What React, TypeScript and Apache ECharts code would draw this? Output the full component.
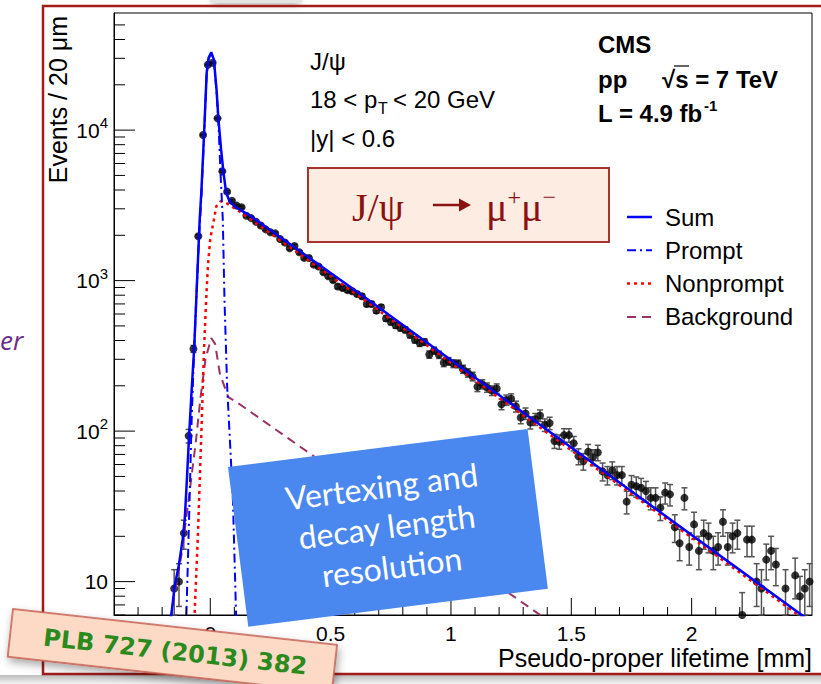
import React, { useEffect, useRef } from "react";
import * as echarts from "echarts";

const X_MIN = -0.4;
const X_MAX = 2.5;
const Y_MIN = 6;
const Y_MAX = 60000;

// Pseudo-proper lifetime bin centres (mm) and events per 20 um bin
const dataPoints: [number, number | null][] = [
  [-0.15, 9], [-0.13, 10], [-0.11, 21], [-0.09, 93], [-0.07, 352], [-0.05, 1970],
  [-0.03, 9290], [-0.01, 27200], [0.01, 28000], [0.03, 11970], [0.05, 5320], [0.07, 3900],
  [0.09, 3390], [0.11, 3150], [0.13, 3070], [0.15, 2700], [0.17, 2600], [0.19, 2460],
  [0.21, 2325], [0.23, 2190], [0.25, 2095], [0.27, 2060], [0.29, 1890], [0.31, 1790],
  [0.33, 1640], [0.35, 1700], [0.37, 1542], [0.39, 1416], [0.41, 1415], [0.43, 1277],
  [0.45, 1240], [0.47, 1136], [0.49, 1070], [0.51, 1008], [0.53, 915], [0.55, 893],
  [0.57, 865], [0.59, 849], [0.61, 815], [0.63, 787], [0.65, 700], [0.67, 700],
  [0.69, 632], [0.71, 665], [0.73, 561], [0.75, 532], [0.77, 505], [0.79, 485],
  [0.81, 472], [0.83, 437], [0.85, 405], [0.87, 385], [0.89, 391], [0.91, 323],
  [0.93, 343], [0.95, 322], [0.97, 285], [0.99, 291], [1.01, 281], [1.03, 280],
  [1.05, 258], [1.07, 244], [1.09, 231], [1.11, 197], [1.13, 205], [1.15, 195],
  [1.17, 186], [1.19, 192], [1.21, 151], [1.23, 161], [1.25, 164], [1.27, 146],
  [1.29, 123], [1.31, 131], [1.33, 114], [1.35, 120], [1.37, 127], [1.39, 110],
  [1.41, 113], [1.43, 86], [1.45, 85], [1.47, 94], [1.49, 94], [1.51, 83],
  [1.53, 68], [1.55, 63], [1.57, 73], [1.59, 67], [1.61, 72], [1.63, 54],
  [1.65, 51], [1.67, 55], [1.69, 51], [1.71, 51], [1.73, 34], [1.75, 44],
  [1.77, 43], [1.79, 42], [1.81, 40], [1.83, 36], [1.85, 36], [1.87, 31],
  [1.89, 39], [1.91, 38], [1.93, 23], [1.95, 18], [1.97, 36], [1.99, 17],
  [2.01, 24], [2.03, 16], [2.05, 21], [2.07, 20], [2.09, 16], [2.11, 17],
  [2.13, 25], [2.15, 17], [2.17, 20], [2.19, 21], [2.21, 6], [2.23, 19],
  [2.25, 19], [2.27, 10], [2.29, 9], [2.31, 14], [2.33, 16], [2.35, 13],
  [2.37, null], [2.39, 9], [2.41, null], [2.43, 11], [2.45, 8], [2.47, 9],
  [2.49, 10],
];

// Fit components: [lifetime (mm), events per 20 um]
const sumCurve: [number, number][] = [
  [-0.17, 4.8], [-0.161, 6.2], [-0.148, 9.3], [-0.13, 13], [-0.115, 19], [-0.106, 26],
  [-0.098, 45], [-0.088, 93], [-0.078, 180], [-0.067, 352], [-0.056, 900], [-0.044, 2540],
  [-0.037, 3900], [-0.026, 9290], [-0.015, 24000], [-0.007, 30200], [0.004, 32900],
  [0.015, 29400], [0.026, 18600], [0.034, 11750], [0.045, 7410], [0.055, 5200],
  [0.066, 3830], [0.08, 3370], [0.1, 3120], [0.135, 2885], [0.169, 2675], [0.639, 780],
  [2.5, 5.35],
];
const promptCurve: [number, number][] = [
  [-0.105, 4.5], [-0.099, 6.2], [-0.092, 15.6], [-0.085, 40], [-0.078, 110], [-0.07, 260],
  [-0.06, 650], [-0.05, 1500], [-0.044, 2300], [-0.037, 3600], [-0.026, 9000],
  [-0.015, 23500], [-0.007, 29800], [0.004, 32400], [0.015, 28800], [0.026, 18000],
  [0.034, 11200], [0.043, 5000], [0.048, 3450], [0.052, 2540], [0.059, 748], [0.07, 200],
  [0.08, 98], [0.094, 35], [0.107, 6.2], [0.112, 4],
];
const nonpromptCurve: [number, number][] = [
  [-0.07, 4.5], [-0.065, 6.2], [-0.051, 21.2], [-0.037, 98], [-0.026, 348], [-0.017, 748],
  [-0.01, 1245], [0.0, 1900], [0.015, 2540], [0.025, 3120], [0.043, 3365], [0.066, 3280],
  [0.114, 2930], [0.639, 745], [2.5, 5.15],
];
const backgroundCurve: [number, number][] = [
  [-0.165, 5.5], [-0.15, 8], [-0.12, 15], [-0.09, 35], [-0.06, 85], [-0.04, 170],
  [-0.02, 300], [0.004, 416], [0.02, 380], [0.04, 240], [0.075, 168], [0.114, 154],
  [1.361, 6.15], [1.42, 5.4],
];

// Axis ticks
const xMajorTicks = [0, 0.5, 1, 1.5, 2];
const xTickLabels = ["0", "0.5", "1", "1.5", "2"];
const xMinorTicks = [
  -0.3, -0.2, -0.1, 0.1, 0.2, 0.3, 0.4, 0.6, 0.7, 0.8, 0.9, 1.1, 1.2, 1.3, 1.4,
  1.6, 1.7, 1.8, 1.9, 2.1, 2.2, 2.3, 2.4,
];
const yMajorTicks = [10, 100, 1000, 10000];
const yTickLabels = ["10", "10{sup|2}", "10{sup|3}", "10{sup|4}"];
const yMinorTicks = [
  6, 7, 8, 9, 20, 30, 40, 50, 60, 70, 80, 90, 200, 300, 400, 500, 600, 700, 800, 900,
  2000, 3000, 4000, 5000, 6000, 7000, 8000, 9000, 20000, 30000, 40000, 50000,
];

const legendEntries = ["Sum", "Prompt", "Nonprompt", "Background"];

const ROOT_FONT = '"Liberation Sans", Arial, sans-serif';
const SERIF_FONT = '"Liberation Serif", "DejaVu Serif", serif';

function tickSeries(points: number[][], dx: number, dy: number) {
  return {
    type: "custom",
    silent: true,
    z: 8,
    data: points,
    encode: { x: 0, y: 1 },
    renderItem: (_p: any, api: any) => {
      const c = api.coord([api.value(0), api.value(1)]);
      return {
        type: "line",
        shape: { x1: c[0], y1: c[1], x2: c[0] + dx, y2: c[1] + dy },
        style: { stroke: "#000", lineWidth: 1 },
      };
    },
  };
}

export default function App() {
  const ref = useRef<HTMLDivElement>(null);

  useEffect(() => {
    if (!ref.current) return;
    const chart = echarts.init(ref.current, undefined, { renderer: "svg" });

    const measured = dataPoints.filter((d) => d[1] !== null) as [number, number][];

    const option: any = {
      animation: false,
      backgroundColor: "#fff",
      grid: {
        left: 114,
        right: 9,
        top: 13,
        bottom: 69,
        show: true,
        borderColor: "#000",
        borderWidth: 1,
        backgroundColor: "transparent",
      },
      xAxis: {
        type: "value",
        min: X_MIN,
        max: X_MAX,
        interval: 0.1,
        splitLine: { show: false },
        axisTick: { show: false },
        axisLine: { onZero: false, lineStyle: { color: "#000", width: 1 } },
        axisLabel: {
          color: "#000",
          fontSize: 21,
          fontFamily: ROOT_FONT,
          margin: 8,
          showMinLabel: false,
          showMaxLabel: false,
          formatter: (v: number) => {
            const i = xMajorTicks.findIndex((t) => Math.abs(t - v) < 1e-6);
            return i >= 0 ? xTickLabels[i] : "";
          },
        },
      },
      yAxis: {
        type: "log",
        logBase: 10,
        min: Y_MIN,
        max: Y_MAX,
        splitLine: { show: false },
        axisTick: { show: false },
        axisLine: { onZero: false, lineStyle: { color: "#000", width: 1 } },
        axisLabel: {
          color: "#000",
          fontSize: 21,
          fontFamily: ROOT_FONT,
          margin: 6,
          lineHeight: 30,
          formatter: (v: number) => {
            const i = yMajorTicks.findIndex((t) => Math.abs(t - v) / t < 1e-6);
            return i >= 0 ? yTickLabels[i] : "";
          },
          rich: {
            sup: { fontSize: 15, fontFamily: ROOT_FONT, verticalAlign: "top", lineHeight: 30, color: "#000" },
          },
        },
      },
      series: [
        {
          name: "errors",
          type: "custom",
          silent: true,
          z: 2,
          data: measured,
          encode: { x: 0, y: 1 },
          renderItem: (_p: any, api: any) => {
            const x = api.value(0);
            const n = api.value(1);
            const err = Math.sqrt(n);
            const bottom = api.coord([x, Y_MIN])[1];
            const top = api.coord([x, Y_MAX])[1];
            const hi = Math.max(api.coord([x, n + err])[1], top);
            const lo = n - err > 0 ? Math.min(api.coord([x, n - err])[1], bottom) : bottom;
            const cx = api.coord([x, n])[0];
            const stroke = { stroke: "#555", lineWidth: 1.5 };
            return {
              type: "group",
              children: [
                { type: "line", shape: { x1: cx, y1: hi, x2: cx, y2: lo }, style: stroke },
                { type: "line", shape: { x1: cx - 3, y1: hi, x2: cx + 3, y2: hi }, style: stroke },
                { type: "line", shape: { x1: cx - 3, y1: lo, x2: cx + 3, y2: lo }, style: stroke },
              ],
            };
          },
        },
        {
          name: "Data",
          type: "scatter",
          z: 3,
          symbol: "circle",
          symbolSize: 8,
          itemStyle: { color: "#000" },
          data: measured,
        },
        {
          name: "Background",
          type: "line",
          z: 4,
          symbol: "none",
          data: backgroundCurve,
          lineStyle: { color: "#993366", width: 2, type: [9, 6] },
        },
        {
          name: "Nonprompt",
          type: "line",
          z: 5,
          symbol: "none",
          data: nonpromptCurve,
          lineStyle: { color: "#ff0000", width: 2.5, type: [3, 4] },
        },
        {
          name: "Prompt",
          type: "line",
          z: 6,
          symbol: "none",
          data: promptCurve,
          lineStyle: { color: "#0000ff", width: 2, type: [9, 4, 2, 4] },
        },
        {
          name: "Sum",
          type: "line",
          z: 7,
          symbol: "none",
          data: sumCurve,
          lineStyle: { color: "#0000ff", width: 2.5 },
        },
        tickSeries(yMajorTicks.map((v) => [X_MIN, v]), 21, 0),
        tickSeries(yMinorTicks.map((v) => [X_MIN, v]), 11, 0),
        tickSeries(xMajorTicks.map((v) => [v, Y_MIN]), 0, -17),
        tickSeries(xMinorTicks.map((v) => [v, Y_MIN]), 0, -8),
      ],
      graphic: {
        elements: [
          // slide frame, its shadow and the edge of the shape above it
          {
            type: "rect",
            z: 0,
            shape: { x: 0, y: 675, width: 821, height: 9 },
            style: {
              fill: new echarts.graphic.LinearGradient(0, 0, 0, 1, [
                { offset: 0, color: "#bdbdbd" },
                { offset: 1, color: "#f2f2f2" },
              ]),
            },
          },
          {
            type: "rect",
            z: 0,
            shape: { x: 212, y: -10, width: 88, height: 13, r: 3 },
            style: {
              fill: "#e4e4e4",
              shadowBlur: 6,
              shadowOffsetY: 2,
              shadowColor: "rgba(0,0,0,0.3)",
            },
          },
          {
            type: "rect",
            z: 1,
            shape: { x: 43, y: 6, width: 820, height: 668 },
            style: { fill: "none", stroke: "#a01d1a", lineWidth: 2.5 },
          },
          {
            type: "text",
            z: 100,
            x: 0,
            y: 340,
            style: {
              text: "er",
              fill: "#6e2c8e",
              font: 'italic 26px "Open Sans", sans-serif',
              verticalAlign: "middle",
            },
          },
          // axis titles
          {
            type: "text",
            z: 100,
            x: 58,
            y: 16,
            rotation: Math.PI / 2,
            style: {
              text: "Events / 20 μm",
              fill: "#000",
              font: `25px ${ROOT_FONT}`,
              align: "right",
              verticalAlign: "middle",
            },
          },
          {
            type: "text",
            z: 100,
            x: 812,
            y: 658,
            style: {
              text: "Pseudo-proper lifetime [mm]",
              fill: "#000",
              font: `25px ${ROOT_FONT}`,
              align: "right",
              verticalAlign: "middle",
            },
          },
          // selection labels
          {
            type: "text", z: 100, x: 310, y: 61,
            style: { text: "J/ψ", fill: "#000", font: `24px ${ROOT_FONT}`, verticalAlign: "middle" },
          },
          {
            type: "text", z: 100, x: 310, y: 99,
            style: { text: "18 < p", fill: "#000", font: `24px ${ROOT_FONT}`, verticalAlign: "middle" },
          },
          {
            type: "text", z: 100, x: 378, y: 108,
            style: { text: "T", fill: "#000", font: `16px ${ROOT_FONT}`, verticalAlign: "middle" },
          },
          {
            type: "text", z: 100, x: 393, y: 99,
            style: { text: "< 20 GeV", fill: "#000", font: `24px ${ROOT_FONT}`, verticalAlign: "middle" },
          },
          {
            type: "text", z: 100, x: 310, y: 138,
            style: { text: "|y| < 0.6", fill: "#000", font: `24px ${ROOT_FONT}`, verticalAlign: "middle" },
          },
          // experiment labels
          {
            type: "text", z: 100, x: 598, y: 44,
            style: { text: "CMS", fill: "#000", font: `bold 24px ${ROOT_FONT}`, verticalAlign: "middle" },
          },
          {
            type: "text", z: 100, x: 598, y: 79,
            style: { text: "pp", fill: "#000", font: `bold 24px ${ROOT_FONT}`, verticalAlign: "middle" },
          },
          {
            type: "text", z: 100, x: 662, y: 79,
            style: { text: "√s = 7 TeV", fill: "#000", font: `bold 24px ${ROOT_FONT}`, verticalAlign: "middle" },
          },
          {
            type: "line", z: 100,
            shape: { x1: 674, y1: 66, x2: 689, y2: 66 },
            style: { stroke: "#000", lineWidth: 1.2 },
          },
          {
            type: "text", z: 100, x: 598, y: 113,
            style: { text: "L = 4.9 fb", fill: "#000", font: `bold 24px ${ROOT_FONT}`, verticalAlign: "middle" },
          },
          {
            type: "text", z: 100, x: 704, y: 105,
            style: { text: "-1", fill: "#000", font: `bold 15px ${ROOT_FONT}`, verticalAlign: "middle" },
          },
          // decay channel box
          {
            type: "rect", z: 100,
            shape: { x: 308, y: 168, width: 301, height: 74 },
            style: { fill: "#fdece2", stroke: "#a8332d", lineWidth: 2 },
          },
          {
            type: "text", z: 101, x: 352, y: 207,
            style: {
              text: "J/ψ",
              fill: "#8c1212",
              font: `40px ${SERIF_FONT}`,
              verticalAlign: "middle",
            },
          },
          {
            type: "line", z: 101,
            shape: { x1: 433, y1: 205, x2: 466, y2: 205 },
            style: { stroke: "#8c1212", lineWidth: 2.4 },
          },
          {
            type: "polygon", z: 101,
            shape: { points: [[471, 205], [459, 198.5], [459, 211.5]] },
            style: { fill: "#8c1212" },
          },
          {
            type: "text", z: 101, x: 486, y: 207,
            style: {
              text: "μ{sup|+}μ{sup|−}",
              fill: "#8c1212",
              font: `40px ${SERIF_FONT}`,
              verticalAlign: "middle",
              lineHeight: 44,
              rich: {
                sup: { fontSize: 24, fontFamily: SERIF_FONT, fill: "#8c1212", verticalAlign: "top", lineHeight: 44 },
              },
            },
          },
          // legend
          ...legendEntries.flatMap((name, i) => {
            const y = 217 + i * 33.3;
            const styles = [
              { stroke: "#0000ff", lineWidth: 2.5 },
              { stroke: "#0000ff", lineWidth: 2, lineDash: [9, 4, 2, 4] },
              { stroke: "#ff0000", lineWidth: 2.5, lineDash: [3, 4] },
              { stroke: "#993366", lineWidth: 2, lineDash: [9, 6] },
            ];
            return [
              { type: "line", z: 100, shape: { x1: 627, y1: y, x2: 652, y2: y }, style: styles[i] },
              {
                type: "text", z: 100, x: 665, y,
                style: { text: name, fill: "#000", font: `24px ${ROOT_FONT}`, verticalAlign: "middle" },
              },
            ];
          }),
          // resolution callout
          {
            type: "group",
            z: 110,
            x: 228,
            y: 467,
            rotation: 0.126,
            children: [
              {
                type: "rect", z: 110,
                shape: { x: 0, y: 0, width: 302, height: 161 },
                style: { fill: "#4a88f0" },
              },
              ...["Vertexing and", "decay length", "resolution"].map((line, i) => ({
                type: "text", z: 111, x: 150, y: 38 + i * 40.5,
                style: {
                  text: line,
                  fill: "#fff",
                  font: '32px Lato, "Open Sans", sans-serif',
                  align: "center",
                  verticalAlign: "middle",
                },
              })),
            ],
          },
          // reference sticker
          {
            type: "group",
            z: 120,
            x: 13,
            y: 609,
            rotation: -0.11,
            children: [
              {
                type: "rect", z: 120,
                shape: { x: 0, y: 0, width: 326, height: 48 },
                style: {
                  fill: "#fcdac5",
                  stroke: "#c4574a",
                  lineWidth: 1.5,
                  shadowBlur: 8,
                  shadowOffsetX: 2,
                  shadowOffsetY: 4,
                  shadowColor: "rgba(0,0,0,0.35)",
                },
              },
              {
                type: "text", z: 121, x: 166, y: 25,
                style: {
                  text: "PLB 727 (2013) 382",
                  fill: "#2a8a1c",
                  font: 'bold 24px "DejaVu Sans", sans-serif',
                  align: "center",
                  verticalAlign: "middle",
                },
              },
            ],
          },
        ],
      },
    };

    chart.setOption(option);
    return () => chart.dispose();
  }, []);

  return (
    <div
      ref={ref}
      style={{ position: "fixed", left: 0, top: 0, width: 821, height: 684, background: "#fff" }}
    />
  );
}
